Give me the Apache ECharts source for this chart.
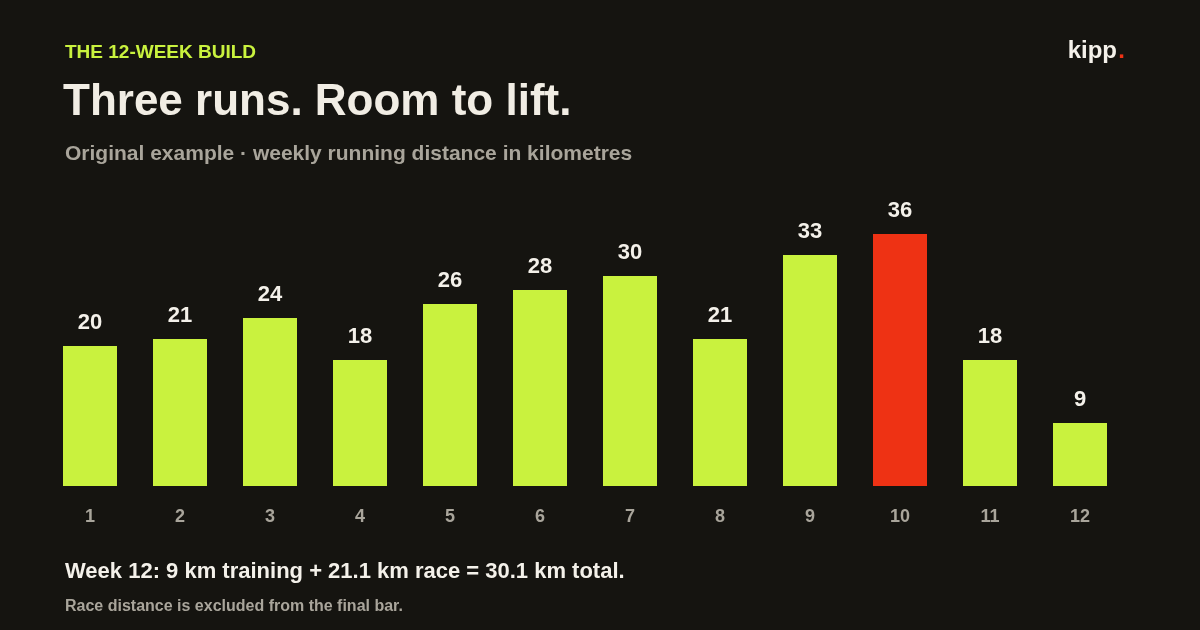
<!DOCTYPE html>
<html>
<head>
    <meta charset="utf-8" />
    <title>The 12-week build</title>
    <script src="https://cdn.jsdelivr.net/npm/echarts@6/dist/echarts.min.js"></script>
    <style>
        html, body { margin: 0; padding: 0; background: #151410; }
        #chart { width: 1200px; height: 630px; }
    </style>
</head>
<body>
    <div id="chart"></div>
    <script>
        // week numbers and weekly distance (km)
        var weeks = ['1', '2', '3', '4', '5', '6', '7', '8', '9', '10', '11', '12'];
        var distance = [20, 21, 24, 18, 26, 28, 30, 21, 33, 36, 18, 9];
        var peakWeek = '10';

        var lime = '#c9f23e';
        var red = '#ee3214';
        var font = 'Liberation Sans, Arial, sans-serif';

        var myChart = echarts.init(document.getElementById('chart'));
        myChart.setOption({
            backgroundColor: '#151410',
            textStyle: { fontFamily: font },
            title: [
                { text: 'THE 12-WEEK BUILD', left: 60, top: 38, textStyle: { color: lime, fontSize: 19, fontWeight: 'bold', fontFamily: font } },
                { text: 'Three runs. Room to lift.', left: 58, top: 76, textStyle: { color: '#f1ede4', fontSize: 44, fontWeight: 'bold', fontFamily: font } },
                { text: 'Original example · weekly running distance in kilometres', left: 60, top: 139, textStyle: { color: '#a9a59b', fontSize: 21, fontWeight: 'bold', fontFamily: font } },
                { text: 'Week 12: 9 km training + 21.1 km race = 30.1 km total.', left: 60, top: 556, textStyle: { color: '#f4f1ea', fontSize: 22, fontWeight: 'bold', fontFamily: font } },
                { text: 'Race distance is excluded from the final bar.', left: 60, top: 594, textStyle: { color: '#a9a59b', fontSize: 16, fontWeight: 'bold', fontFamily: font } },
                { text: 'kipp', right: 78, top: 34, textStyle: { color: '#f4f1ea', fontSize: 24, fontWeight: 'bold', fontFamily: font } },
                { text: '.', right: 70, top: 34, textStyle: { color: red, fontSize: 24, fontWeight: 'bold', fontFamily: font } }
            ],
            grid: { left: 45, right: 75, top: 234, bottom: 144 },
            xAxis: {
                type: 'category',
                data: weeks,
                axisLine: { show: false },
                axisTick: { show: false },
                axisLabel: { color: '#a9a59b', fontSize: 18, fontWeight: 'bold', margin: 22 }
            },
            yAxis: { type: 'value', min: 0, max: 36, show: false, splitLine: { show: false } },
            series: [{
                type: 'bar',
                barWidth: 54,
                data: distance.map(function (v, i) {
                    return { value: v, itemStyle: { color: weeks[i] === peakWeek ? red : lime } };
                }),
                label: { show: true, position: 'top', distance: 12, color: '#f4f1ea', fontSize: 22, fontWeight: 'bold' }
            }]
        });
    </script>
</body>
</html>
